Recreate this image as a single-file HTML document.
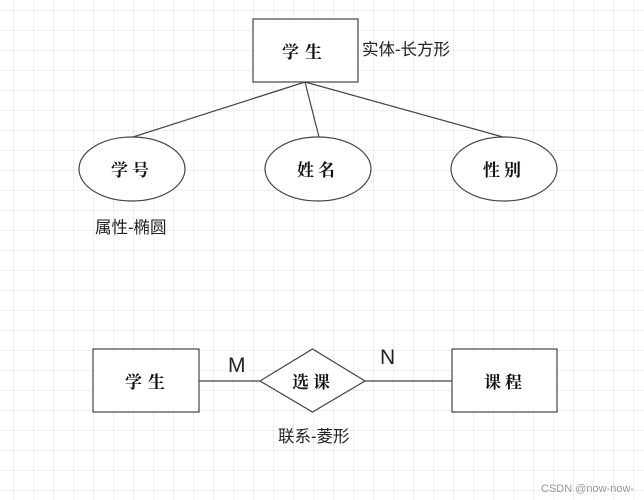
<!DOCTYPE html>
<html><head><meta charset="utf-8"><style>
html,body{margin:0;padding:0;background:#fff;}
svg{display:block}
text{font-family:"Liberation Sans","Noto Sans CJK SC",sans-serif;}
.b{font-family:"Noto Serif CJK SC","Noto Sans CJK SC",serif;font-weight:bold;font-size:17px;}
</style></head><body>
<svg width="644" height="500" viewBox="0 0 644 500" xmlns="http://www.w3.org/2000/svg">
<defs>
<pattern id="g" x="13" y="10" width="20" height="20" patternUnits="userSpaceOnUse">
<path d="M0 0V20M0 0H20" stroke="#dcdcdc" stroke-width="1" fill="none"/>
</pattern>
</defs>
<rect width="644" height="500" fill="url(#g)"/>
<g stroke="#444" stroke-width="1.2" fill="#fff">
<line x1="305" y1="82" x2="133" y2="137"/>
<line x1="305" y1="82" x2="319" y2="137"/>
<line x1="305" y1="82" x2="503" y2="137"/>
<rect x="253" y="19" width="105" height="63"/>
<ellipse cx="132" cy="169" rx="53" ry="32"/>
<ellipse cx="318" cy="169" rx="53" ry="32"/>
<ellipse cx="504" cy="169" rx="53" ry="32"/>
<line x1="199" y1="381" x2="260" y2="381"/>
<line x1="365" y1="381" x2="452" y2="381"/>
<rect x="93" y="349" width="106" height="63"/>
<polygon points="260,381 312.5,349 365,381 312.5,412"/>
<rect x="452" y="349" width="105" height="63"/>
</g>
<g text-anchor="middle" fill="#111">
<text class="b" x="305" y="58" letter-spacing="6">学生</text>
<text class="b" x="132" y="176" letter-spacing="4">学号</text>
<text class="b" x="318" y="176" letter-spacing="4">姓名</text>
<text class="b" x="504" y="176" letter-spacing="4">性别</text>
<text class="b" x="148" y="388" letter-spacing="6">学生</text>
<text class="b" x="313" y="388" letter-spacing="4">选课</text>
<text class="b" x="505" y="388" letter-spacing="4">课程</text>
</g>
<g fill="#222" font-size="16.5">
<text x="362" y="55">实体-长方形</text>
<text x="95" y="233">属性-椭圆</text>
<text x="278" y="442">联系-菱形</text>
<text x="228" y="372" font-size="21">M</text>
<text x="380" y="364" font-size="21">N</text>
</g>
<text x="541" y="492" font-size="11" fill="#999">CSDN @now-now-</text>
</svg>
</body></html>
